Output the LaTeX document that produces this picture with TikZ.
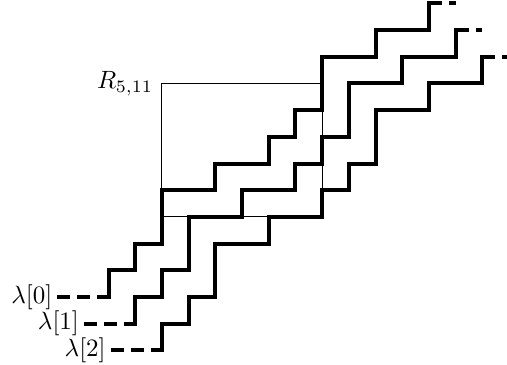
\documentclass[tikz,border=0pt]{standalone}
\begin{document}
\begin{tikzpicture}[x=10.68pt,y=10.68pt,
  stair/.style={line width=1.6pt, line cap=rect},
  tail/.style={line width=1.6pt, dash pattern=on 5.2pt off 2.8pt},
  frame/.style={line width=0.4pt},
  lab/.style={anchor=east, inner sep=1.8pt}]
\useasboundingbox (-4.064,-2.509) rectangle (14.925,11.124);
\draw[frame] (2,3) rectangle (8,8);
\coordinate (rc) at (2,8);
\node[anchor=east] (R) at (rc) {$R_{5,11}$};
\foreach \i in {0,1,2} {
  \coordinate (a\i) at ({\i-1.92},{-\i});
  \coordinate (b\i) at (\i,-\i);
  \coordinate (c\i) at ({12+\i},{11-\i});
  \coordinate (d\i) at ({13+\i},{11-\i});
  \node[lab] (l\i) at (a\i) {$\lambda[\i]$};
  \draw[tail] (a\i) -- (b\i);
  \draw[stair] (b\i) -- ++(0,1) -- ++(1,0) -- ++(0,1) -- ++(1,0) -- ++(0,2)
    -- ++(2,0) -- ++(0,1) -- ++(2,0) -- ++(0,1) -- ++(1,0) -- ++(0,1)
    -- ++(1,0) -- ++(0,2) -- ++(2,0) -- ++(0,1) -- ++(2,0) -- (c\i);
  \draw[tail] (c\i) -- (d\i);
}
\end{tikzpicture}
\end{document}
